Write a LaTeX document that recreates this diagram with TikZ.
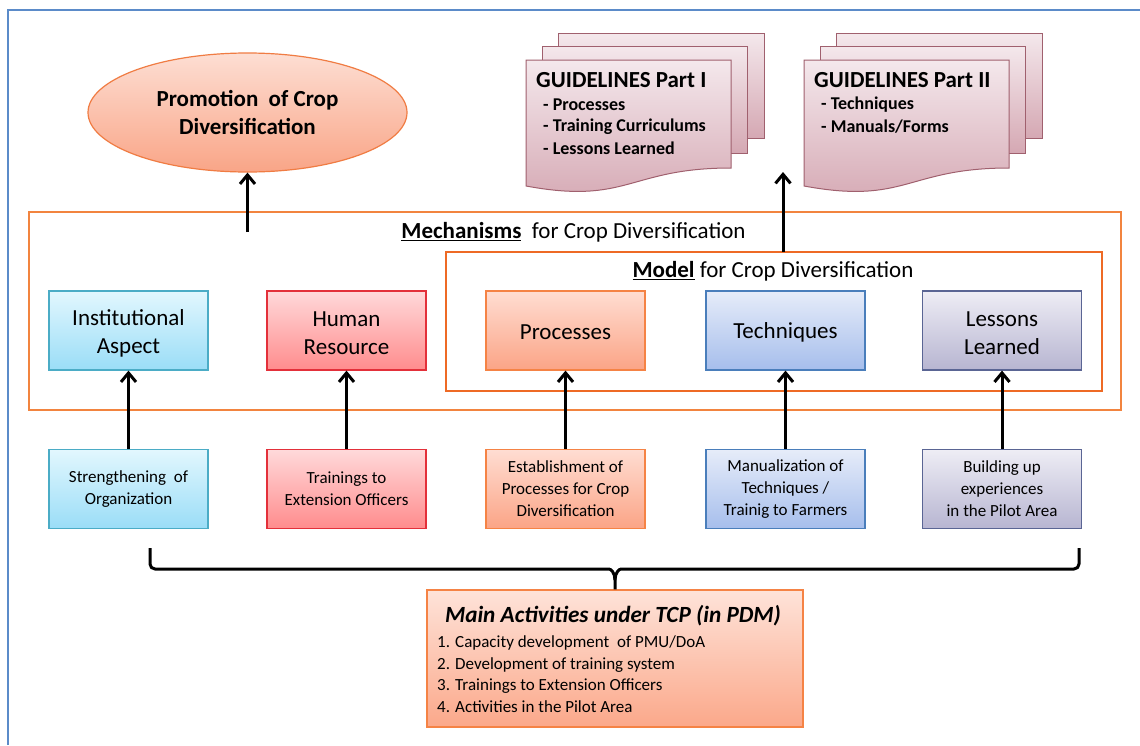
\documentclass[tikz,border=0pt]{standalone}
\usepackage{fontspec}
\setmainfont{Carlito}
\usetikzlibrary{shapes.geometric,arrows.meta}
\definecolor{frameblue}{HTML}{5B8BC9}
\definecolor{ellT}{HTML}{FDDED3}
\definecolor{ellB}{HTML}{F9A587}
\definecolor{ellD}{HTML}{F07C43}
\definecolor{instT}{HTML}{E2F7FE}
\definecolor{instB}{HTML}{9ADDF7}
\definecolor{instD}{HTML}{4BACC6}
\definecolor{hrT}{HTML}{FFD9DA}
\definecolor{hrB}{HTML}{FF8C8D}
\definecolor{hrD}{HTML}{E3303A}
\definecolor{procT}{HTML}{FFDDD2}
\definecolor{procB}{HTML}{FBA486}
\definecolor{procD}{HTML}{F58345}
\definecolor{techT}{HTML}{E6ECF9}
\definecolor{techB}{HTML}{A6BEEC}
\definecolor{techD}{HTML}{4A7EBB}
\definecolor{lessT}{HTML}{EEEDF5}
\definecolor{lessB}{HTML}{B7B5D1}
\definecolor{lessD}{HTML}{5A6594}
\definecolor{docT}{HTML}{F4E8EC}
\definecolor{docB}{HTML}{D5A8B3}
\definecolor{docD}{HTML}{A0606E}
\definecolor{mainT}{HTML}{FEE3D9}
\definecolor{mainB}{HTML}{FBA88A}
\definecolor{mechD}{HTML}{F2843F}
\definecolor{modelD}{HTML}{EE6A25}
\newcommand{\multidoc}[2]{%
  \draw[docpage] (#1+32,#2-27) rectangle (#1+238,#2+78);
  \draw[docpage] (#1+16,#2-14) rectangle (#1+221,#2+93);
  \draw[docpage] (#1,#2) -- (#1+205,#2) -- (#1+205,#2+108)
     .. controls (#1+102.5,#2+108) and (#1+102.5,#2+145) .. (#1,#2+126) -- cycle;
}
\begin{document}
\begin{tikzpicture}[x=1pt,y=-1pt,
  arr/.style={line width=3pt,-{Straight Barb[length=9pt,width=15pt]}},
  brc/.style={line width=3pt,line join=round},
  boxframe/.style={draw,line width=1.2pt,minimum width=159pt,minimum height=79pt,inner sep=0pt},
  boxtext/.style={inner sep=0pt,align=center,font=\fontsize{23}{28}\selectfont},
  sbox/.style={boxframe,align=center,font=\fontsize{17}{22}\selectfont},
  inst/.style={top color=instT,bottom color=instB,draw=instD},
  hr/.style={top color=hrT,bottom color=hrB,draw=hrD},
  proc/.style={top color=procT,bottom color=procB,draw=procD},
  tech/.style={top color=techT,bottom color=techB,draw=techD},
  less/.style={top color=lessT,bottom color=lessB,draw=lessD},
  docpage/.style={draw=docD,line width=1pt,top color=docT,bottom color=docB},
  dochead/.style={anchor=west,inner sep=0pt,font=\bfseries\fontsize{23}{28}\selectfont},
  docitem/.style={anchor=west,inner sep=0pt,font=\bfseries\fontsize{18}{22}\selectfont},
  label/.style={inner sep=0pt,font=\fontsize{23}{28}\selectfont}
]
\useasboundingbox (0,0) rectangle (1140,745);
\fill[white] (0,0) rectangle (1140,745);
% outer blue frame (only top and left edges visible)
\draw[frameblue,line width=2.5pt] (8,745) -- (8,10) -- (1140,10);

% ellipse
\node[ellipse,draw=ellD,line width=1.2pt,top color=ellT,bottom color=ellB,
  minimum width=319pt,minimum height=119pt,inner sep=0pt,align=center,
  font=\bfseries\fontsize{23}{28}\selectfont] (prom) at (247.5,112.5)
  {Promotion\ \ of Crop\\Diversification};

% guideline documents
\multidoc{526}{60}
\multidoc{804}{60}
\node[dochead] (g1h) at (536,80) {GUIDELINES Part I};
\node[docitem] (g1a) at (543,105) {- Processes};
\node[docitem] (g1b) at (543,127) {- Training Curriculums};
\node[docitem] (g1c) at (543,148) {- Lessons Learned};
\node[dochead] (g2h) at (814,80) {GUIDELINES Part II};
\node[docitem] (g2a) at (821,105) {- Techniques};
\node[docitem] (g2b) at (821,127) {- Manuals/Forms};

% mechanism and model frames
\draw[mechD,line width=1.2pt] (29,212) rectangle (1121,410);
\draw[modelD,line width=1.2pt] (446,252) rectangle (1102,391);
\node[label] (mechlab) at (573.5,232) {\underline{\textbf{Mechanisms}}\ \ for Crop Diversification};
\node[label] (modlab) at (773,271) {\underline{\textbf{Model}}\ for Crop Diversification};

% upper boxes
\node[boxframe,inst] (ia) at (128.5,330.5) {};
\node[boxframe,hr] (hrs) at (346.5,330.5) {};
\node[boxframe,proc] (pr) at (565.5,330.5) {};
\node[boxframe,tech] (te) at (785.5,330.5) {};
\node[boxframe,less] (ll) at (1002,330.5) {};
\node[boxtext] (iat) at ([yshift=-3pt]ia.center) {Institutional\\Aspect};
\node[boxtext] (hrst) at ([yshift=-3pt]hrs.center) {Human\\Resource};
\node[boxtext] (prt) at ([yshift=-2pt]pr.center) {Processes};
\node[boxtext] (tet) at ([yshift=-2pt]te.center) {Techniques};
\node[boxtext] (llt) at ([yshift=-3pt]ll.center) {Lessons\\Learned};

% lower boxes
\node[sbox,inst] (so) at (128.5,489) {Strengthening\ \ of\\Organization};
\node[sbox,hr] (teo) at (346.5,489) {Trainings to\\Extension Officers};
\node[sbox,proc] (ep) at (565.5,489) {Establishment of\\Processes for Crop\\Diversification};
\node[sbox,tech] (mt) at (785.5,489) {Manualization of\\Techniques /\\Trainig to Farmers};
\node[sbox,less] (bu) at (1002,489) {Building up\\experiences\\in the Pilot Area};

% arrows
\draw[arr] (so.north) -- (ia.south);
\draw[arr] (teo.north) -- (hrs.south);
\draw[arr] (ep.north) -- (pr.south);
\draw[arr] (mt.north) -- (te.south);
\draw[arr] (bu.north) -- (ll.south);
\coordinate (mechtail) at (247.5,232);
\draw[arr] (mechtail) -- (prom.south);
\coordinate (gtip) at (783,172);
\coordinate (modtop) at (783,252);
\draw[arr] (modtop) -- (gtip);

% main activities box
\node[draw=procD,line width=1.2pt,top color=mainT,bottom color=mainB,
  minimum width=376pt,minimum height=137pt,inner sep=0pt] (main) at (615,658.5) {};
\node[inner sep=0pt,font=\bfseries\itshape\fontsize{23.2}{28}\selectfont] (maintitle) at (613,616)
  {Main Activities under TCP (in PDM)};
\node[anchor=west,align=left,inner sep=0pt,font=\fontsize{17}{21.5}\selectfont] (mainlist) at (437,674)
  {1. Capacity development\ \ of PMU/DoA\\2. Development of training system\\3. Trainings to Extension Officers\\4. Activities in the Pilot Area};

% brace
\coordinate (bl) at (150,548);
\coordinate (br) at (1079,548);
\draw[brc] (bl) [rounded corners=5pt] -- (150,569) -- (604,569) [sharp corners]
  .. controls (611,569) and (615,573) .. (615,580) -- (main.north);
\draw[brc] (br) [rounded corners=5pt] -- (1079,569) -- (626,569) [sharp corners]
  .. controls (619,569) and (615,573) .. (615,580);
\end{tikzpicture}
\end{document}
